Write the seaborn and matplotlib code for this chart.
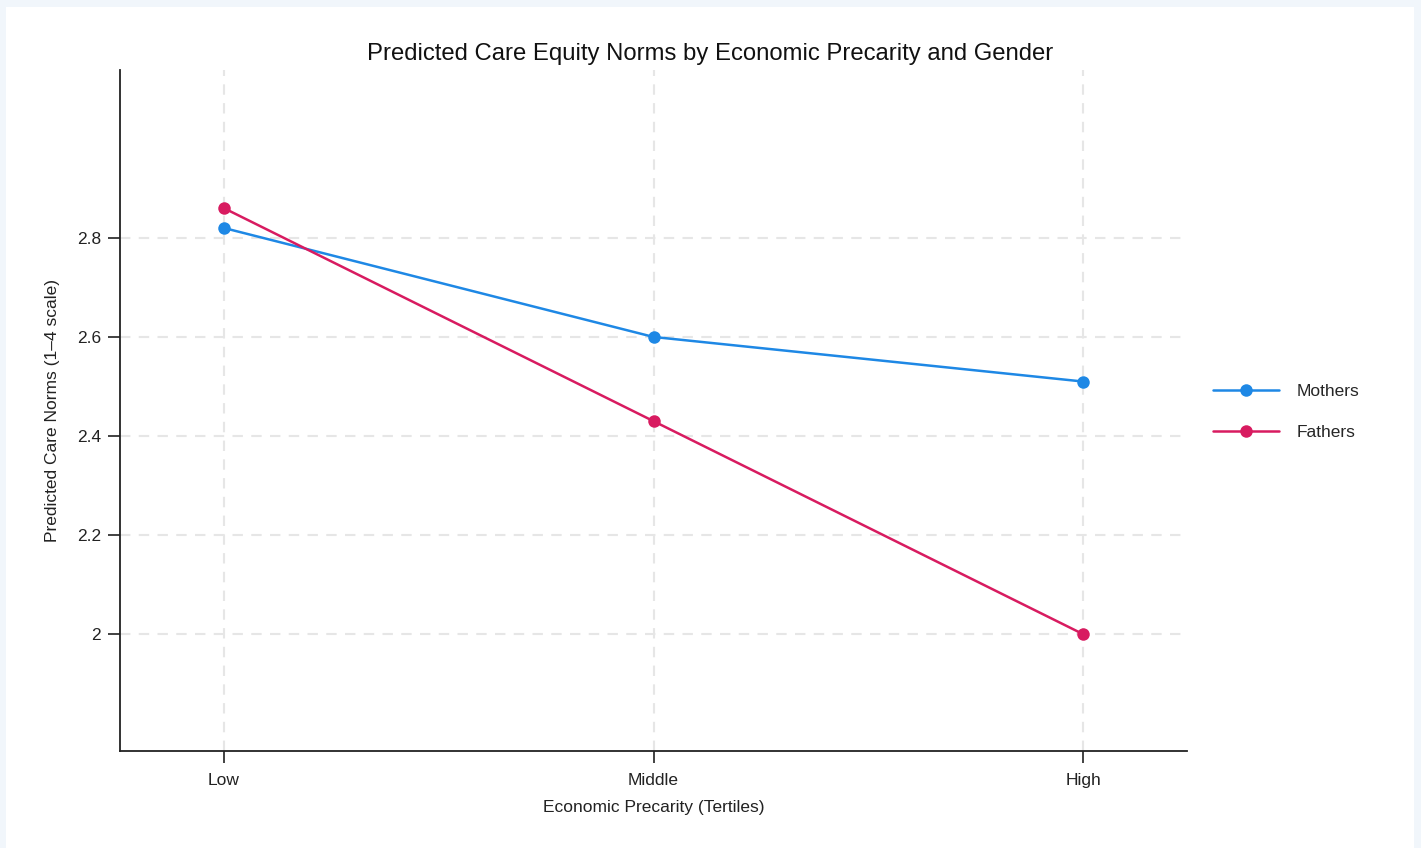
import matplotlib
matplotlib.use("Agg")
import matplotlib.pyplot as plt
import matplotlib.patches as mpatches
import seaborn as sns
import pandas as pd

# Predicted values by precarity tertile
tertiles = ["Low", "Middle", "High"]
mothers = [2.82, 2.60, 2.51]
fathers = [2.86, 2.43, 2.00]
groups = ["Mothers", "Fathers"]
palette = {"Mothers": "#1E88E5", "Fathers": "#D81B60"}
yticks = [2.0, 2.2, 2.4, 2.6, 2.8]
ytick_labels = ["2", "2.2", "2.4", "2.6", "2.8"]

df = pd.DataFrame({
    "tertile": tertiles * 2,
    "x": list(range(len(tertiles))) * 2,
    "value": mothers + fathers,
    "group": ["Mothers"] * 3 + ["Fathers"] * 3,
})

sns.set_theme(style="white")
plt.rcParams["font.family"] = ["Liberation Sans", "DejaVu Sans"]

fig = plt.figure(figsize=(14.21, 8.48), dpi=100, facecolor="#F1F6FB")
fig.patches.append(mpatches.Rectangle((6 / 1421, 0), 1408 / 1421, 841 / 848,
                                      transform=fig.transFigure, facecolor="white",
                                      edgecolor="none", zorder=-1))
ax = fig.add_axes([120 / 1421, 1 - 751 / 848, 1067 / 1421, 681 / 848])
ax.set_facecolor("white")

sns.lineplot(data=df, x="x", y="value", hue="group", hue_order=groups,
             palette=palette, marker="o", markersize=9, markeredgewidth=0,
             linewidth=1.8, ax=ax, zorder=3)

ax.set_xlim(-0.242, 2.242)
ax.set_ylim(1.764, 3.139)
ax.set_xticks(range(len(tertiles)))
ax.set_xticklabels(tertiles, fontsize=12.5)
ax.set_yticks(yticks)
ax.set_yticklabels(ytick_labels, fontsize=12.5)

ax.grid(True, color="#E6E6E6", linestyle=(0, (5, 4)), linewidth=1.5)
for side in ["top", "right"]:
    ax.spines[side].set_visible(False)
for side in ["left", "bottom"]:
    ax.spines[side].set_color("#222222")
    ax.spines[side].set_linewidth(1.3)
ax.tick_params(axis="both", direction="out", length=8.5, width=1.3,
               color="#333333", labelcolor="#222222", pad=5,
               bottom=True, left=True)
ax.tick_params(axis="x", pad=7)

ax.set_xlabel("Economic Precarity (Tertiles)", fontsize=12.5, color="#222222", labelpad=9)
ax.set_ylabel("Predicted Care Norms (1\u20134 scale)", fontsize=12.5, color="#222222", labelpad=12)
fig.text(710 / 1421, 1 - 54 / 848, "Predicted Care Equity Norms by Economic Precarity and Gender",
         ha="center", va="center", fontsize=17.2, color="#111111")

leg = ax.legend(loc="center left", bbox_to_anchor=(1.01, 0.498), frameon=False,
                fontsize=12.5, handlelength=3.8, labelspacing=1.45, handletextpad=1.0)
for h in leg.legend_handles:
    h.set_markersize(9)

fig.savefig("out.png", dpi=100, facecolor=fig.get_facecolor())
